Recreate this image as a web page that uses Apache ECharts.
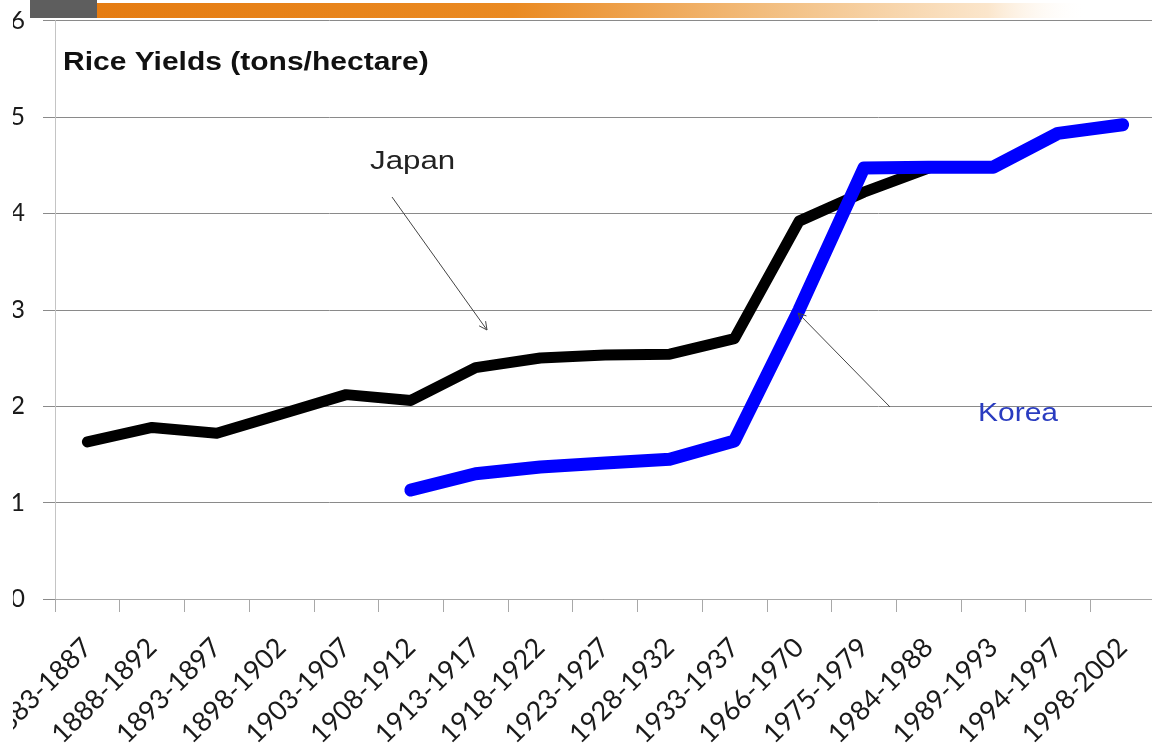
<!DOCTYPE html>
<html>
<head>
<meta charset="utf-8">
<title>Rice Yields</title>
<script src="https://cdn.jsdelivr.net/npm/echarts@6/dist/echarts.min.js"></script>
<style>
  html, body { margin: 0; padding: 0; background: #ffffff; }
  #chart { width: 1152px; height: 753px; }
</style>
</head>
<body>
<div id="chart"></div>
<script>
// Five-year (and later) periods on the horizontal axis
const periods = ['1883-1887', '1888-1892', '1893-1897', '1898-1902', '1903-1907',
  '1908-1912', '1913-1917', '1918-1922', '1923-1927', '1928-1932', '1933-1937',
  '1966-1970', '1975-1979', '1984-1988', '1989-1993', '1994-1997', '1998-2002'];

// Rice yields, tons per hectare
const japanYield = [1.63, 1.78, 1.72, 1.92, 2.12, 2.06, 2.40, 2.50, 2.53, 2.54, 2.70,
  3.92, 4.22, 4.47, null, null, null];
const koreaYield = [null, null, null, null, null, 1.13, 1.30, 1.37, 1.41, 1.45, 1.64,
  3.00, 4.47, 4.48, 4.48, 4.83, 4.92];

// Value axis ticks
const yTicks = [0, 1, 2, 3, 4, 5, 6];

const chart = echarts.init(document.getElementById('chart'), null, { renderer: 'canvas' });

// small open arrowhead for annotation pointers
function arrow(x1, y1, x2, y2) {
  const dx = x2 - x1, dy = y2 - y1;
  const len = Math.sqrt(dx * dx + dy * dy);
  const ux = dx / len, uy = dy / len;
  const px = -uy, py = ux;
  const h = 8, w = 4;
  const bx = x2 - ux * h, by = y2 - uy * h;
  return [
    { type: 'line', z: 20, shape: { x1: x1, y1: y1, x2: x2, y2: y2 },
      style: { stroke: '#444', lineWidth: 1 } },
    { type: 'polyline', z: 20,
      shape: { points: [[bx + px * w, by + py * w], [x2, y2], [bx - px * w, by - py * w]] },
      style: { stroke: '#444', lineWidth: 1, fill: null } }
  ];
}

const option = {
  animation: false,
  backgroundColor: '#ffffff',
  grid: { left: 55, top: 20.6, width: 1100, height: 578.4, containLabel: false,
    outerBoundsMode: 'none' },
  xAxis: {
    type: 'category',
    data: periods,
    boundaryGap: true,
    axisLine: { show: true, lineStyle: { color: '#a8a8a8', width: 1 } },
    axisTick: { show: true, length: 13, lineStyle: { color: '#a8a8a8' } },
    axisLabel: {
      rotate: 45,
      margin: 44,
      interval: 0,
      hideOverlap: false,
      fontFamily: 'Lato',
      fontSize: 27,
      color: '#1a1a1a'
    },
    splitLine: { show: false }
  },
  yAxis: {
    type: 'value',
    min: yTicks[0],
    max: yTicks[yTicks.length - 1],
    interval: 1,
    axisLine: { show: true, lineStyle: { color: '#c4c4c4', width: 1 } },
    axisTick: { show: true, length: 12, lineStyle: { color: '#8a8a8a' } },
    axisLabel: {
      margin: 30,
      fontFamily: 'Lato',
      fontSize: 25,
      color: '#1a1a1a'
    },
    splitLine: { show: true, lineStyle: { color: '#8a8a8a', width: 1 } }
  },
  series: [
    {
      name: 'Japan',
      type: 'line',
      data: japanYield,
      showSymbol: false,
      connectNulls: false,
      z: 3,
      lineStyle: { color: '#000000', width: 11, cap: 'round', join: 'round' }
    },
    {
      name: 'Korea',
      type: 'line',
      data: koreaYield,
      showSymbol: false,
      connectNulls: false,
      z: 4,
      lineStyle: { color: '#0000ff', width: 13, cap: 'round', join: 'round' }
    }
  ],
  graphic: [
    // slide header band
    { type: 'rect', z: 30, shape: { x: 30, y: 0, width: 67, height: 18 },
      style: { fill: '#5e5e5e' } },
    { type: 'rect', z: 30, shape: { x: 97, y: 3, width: 990, height: 15 },
      style: {
        fill: new echarts.graphic.LinearGradient(0, 0, 1, 0, [
          { offset: 0, color: '#e57c12' },
          { offset: 0.42, color: '#ea8a22' },
          { offset: 0.7, color: '#f3c287' },
          { offset: 0.9, color: '#fbe6cc' },
          { offset: 1, color: 'rgba(255,255,255,0)' }
        ])
      } },
    // left margin cut
    { type: 'rect', z: 40, shape: { x: 0, y: 0, width: 13, height: 753 },
      style: { fill: '#ffffff' } },
    // chart title
    { type: 'text', z: 25, x: 63, y: 63, scaleX: 1.2,
      style: { text: 'Rice Yields (tons/hectare)', font: 'bold 25px "Liberation Sans"',
        fill: '#111111', textVerticalAlign: 'middle' } },
    // series annotations
    { type: 'text', z: 25, x: 370, y: 162, scaleX: 1.25,
      style: { text: 'Japan', font: '25px "Liberation Sans"', fill: '#222222',
        textVerticalAlign: 'middle' } },
    { type: 'text', z: 25, x: 978, y: 414, scaleX: 1.2,
      style: { text: 'Korea', font: '25px "Liberation Sans"', fill: '#2a3cc0',
        textVerticalAlign: 'middle' } }
  ].concat(arrow(392, 197, 487, 330), arrow(890, 407, 798, 313))
};

chart.setOption(option);
</script>
</body>
</html>
